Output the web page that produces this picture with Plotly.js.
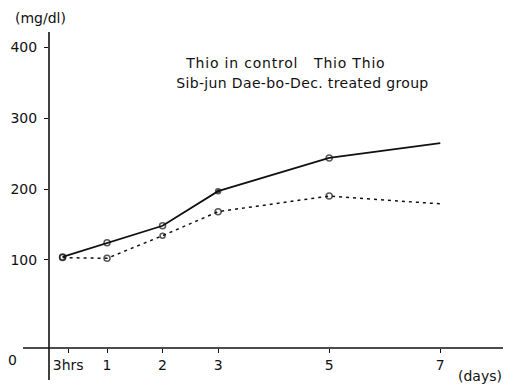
<!DOCTYPE html>
<html>
<head>
<meta charset="utf-8">
<script src="https://cdn.plot.ly/plotly-3.0.1.min.js"></script>
<style>html,body{margin:0;padding:0;background:#fff;}#chart{width:511px;height:384px;}</style>
</head>
<body>
<div id="chart"></div>
<script>
// x positions in days (3hrs drawn at ~0.2 day as in the original)
const xDays = [0.2, 1, 2, 3, 5, 7];
const tickVals = [0.3, 1, 2, 3, 5, 7];
const tickText = ['3hrs', '1', '2', '3', '5', '7'];
const controlValues = [104, 124, 148, 197, 244, 265];
const treatedValues = [103, 102, 134, 168, 190, 179];
const yTicks = [100, 200, 300, 400];

const F = '"DejaVu Sans", "Liberation Sans", sans-serif';
const ink = '#111';

const traces = [
  {
    x: xDays, y: controlValues, type: 'scatter', mode: 'lines+markers',
    line: {color: ink, width: 1.8},
    marker: {symbol: ['circle-open','circle-open','circle-open','circle','circle-open','circle-open'],
             size: [6,6,6,5,6,0], color: ink, line: {color: ink, width: 1.5}},
    showlegend: false, hoverinfo: 'skip'
  },
  {
    x: xDays, y: treatedValues, type: 'scatter', mode: 'lines+markers',
    line: {color: ink, width: 1.5, dash: '3px,4px'},
    marker: {symbol: 'circle-open', size: [6,6,5,6,6,0], color: ink, line: {color: ink, width: 1.5}},
    showlegend: false, hoverinfo: 'skip'
  }
];

const W = 454, H = 316;
const layout = {
  width: 511, height: 384,
  margin: {l: 49, r: 8, t: 32, b: 36},
  paper_bgcolor: '#fff', plot_bgcolor: '#fff',
  font: {family: F, size: 14, color: ink},
  xaxis: {
    range: [-0.045, 8.13], showgrid: false, zeroline: false,
    showline: false, tickmode: 'array', tickvals: tickVals, ticktext: tickText,
    ticks: 'outside', ticklen: 4, tickcolor: ink, tickwidth: 1,
    tickfont: {family: F, size: 14, color: ink}
  },
  yaxis: {
    range: [-24.8, 422], showgrid: false, zeroline: false,
    showline: false, tickmode: 'array', tickvals: yTicks,
    ticks: 'outside', ticklen: 4, tickcolor: ink, tickwidth: 1,
    ticklabelstandoff: 4,
    tickfont: {family: F, size: 14, color: ink}
  },
  shapes: [
    {type: 'line', xref: 'paper', yref: 'paper', x0: 0, x1: 0, y0: -32/H, y1: 1, line: {color: ink, width: 1.6}},
    {type: 'line', xref: 'paper', yref: 'paper', x0: -26/W, x1: 1, y0: 0, y1: 0, line: {color: ink, width: 1.6}}
  ],
  annotations: [
    {text: '(mg/dl)', xref: 'paper', yref: 'paper', x: -9/W, y: 1 + 14/H, xanchor: 'center', yanchor: 'middle', showarrow: false, font: {family: F, size: 14, color: ink}},
    {text: '0', xref: 'paper', yref: 'paper', x: -37/W, y: -12/H, xanchor: 'center', yanchor: 'middle', showarrow: false, font: {family: F, size: 14, color: ink}},
    {text: '(days)', xref: 'paper', yref: 'paper', x: 431/W, y: -28/H, xanchor: 'center', yanchor: 'middle', showarrow: false, font: {family: F, size: 14, color: ink}},
    {text: 'Thio in control\u00a0\u00a0 Thio Thio', xref: 'paper', yref: 'paper', x: 236/W, y: 285/H, xanchor: 'center', yanchor: 'middle', showarrow: false, font: {family: F, size: 14, color: ink}},
    {text: 'Sib-jun Dae-bo-Dec. treated group', xref: 'paper', yref: 'paper', x: 253/W, y: 265/H, xanchor: 'center', yanchor: 'middle', showarrow: false, font: {family: F, size: 14, color: ink}}
  ]
};

Plotly.newPlot('chart', traces, layout, {displayModeBar: false, staticPlot: true}).then(function(gd){
  gd.querySelectorAll('.annotation-text').forEach(function(t){
    const s = t.textContent;
    if (s.indexOf('Thio') >= 0) t.style.letterSpacing = '0.8px';
    if (s.indexOf('Sib') >= 0) t.style.letterSpacing = '0.35px';
  });
});
</script>
</body>
</html>
